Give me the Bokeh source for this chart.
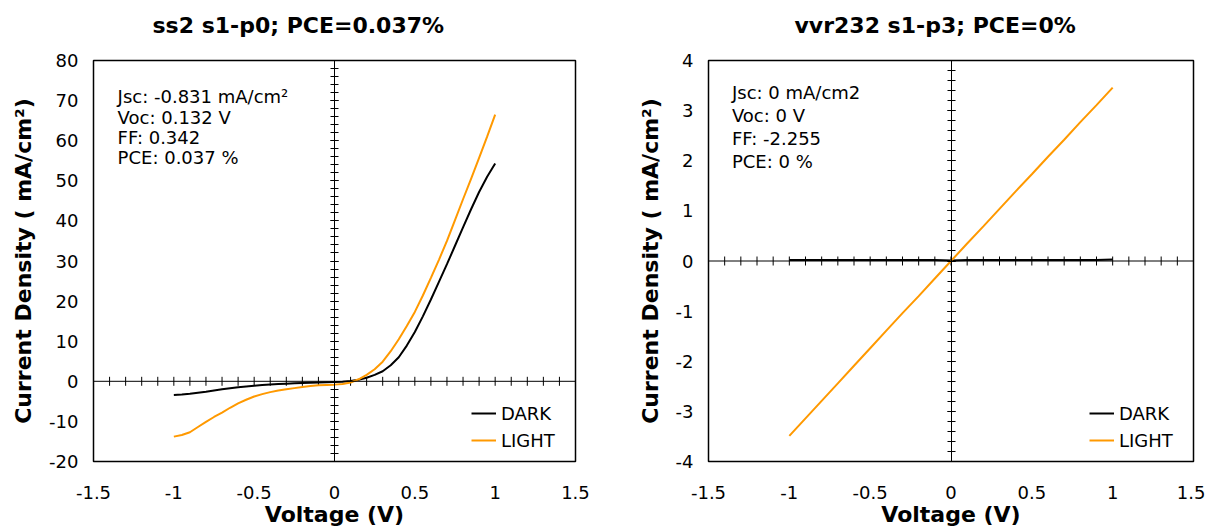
import math
import numpy as np
from bokeh.plotting import figure
from bokeh.models import (LinearAxis, SingleIntervalTicker, NumeralTickFormatter,
                          Label, Legend, LegendItem, Range1d, Span, Title)
from bokeh.layouts import row
from bokeh.embed import file_html
from bokeh.resources import INLINE

FONT = "DejaVu Sans"
ORANGE = "#FF9900"

# ---------------- data ----------------
voltage_ss2 = [-1.0, -0.95, -0.9, -0.85, -0.8, -0.75, -0.7, -0.65, -0.6, -0.55,
               -0.5, -0.45, -0.4, -0.35, -0.3, -0.25, -0.2, -0.15, -0.1, -0.05,
               0.0, 0.05, 0.1, 0.15, 0.2, 0.25, 0.3, 0.35, 0.4, 0.45,
               0.5, 0.55, 0.6, 0.65, 0.7, 0.75, 0.8, 0.85, 0.9, 0.95, 1.0]
dark_ss2 = [-3.4, -3.3, -3.1, -2.85, -2.6, -2.3, -2.0, -1.75, -1.5, -1.3,
            -1.1, -0.95, -0.8, -0.7, -0.6, -0.5, -0.4, -0.35, -0.3, -0.25,
            -0.2, -0.1, 0.1, 0.4, 0.9, 1.6, 2.5, 4.0, 6.0, 8.9,
            12.3, 16.2, 20.4, 24.8, 29.2, 33.8, 38.4, 42.9, 47.2, 51.0, 54.3]
light_ss2 = [-13.8, -13.4, -12.7, -11.4, -10.1, -8.9, -7.8, -6.6, -5.5, -4.6,
             -3.8, -3.2, -2.7, -2.3, -2.0, -1.7, -1.4, -1.2, -1.0, -0.9,
             -0.83, -0.65, -0.3, 0.5, 1.6, 3.0, 4.9, 7.5, 10.5, 13.8,
             17.3, 21.4, 25.8, 30.3, 35.0, 40.2, 45.4, 50.5, 55.7, 61.0, 66.5]

voltage_vvr = [-1.0, -0.9, -0.8, -0.7, -0.6, -0.5, -0.4, -0.3, -0.2, -0.1, 0.0,
               0.1, 0.2, 0.3, 0.4, 0.5, 0.6, 0.7, 0.8, 0.9, 1.0]
dark_vvr = [0.02, 0.02, 0.02, 0.02, 0.02, 0.02, 0.02, 0.02, 0.02, 0.02, 0.01,
            0.02, 0.02, 0.02, 0.02, 0.02, 0.02, 0.02, 0.02, 0.02, 0.03]
light_vvr = [-3.49, -3.14, -2.79, -2.44, -2.09, -1.74, -1.39, -1.04, -0.70, -0.35, 0.0,
             0.35, 0.69, 1.04, 1.39, 1.73, 2.08, 2.42, 2.77, 3.11, 3.46]

titles = ["ss2 s1-p0; PCE=0.037%", "vvr232 s1-p3; PCE=0%"]
notes_ss2 = ["Jsc: -0.831 mA/cm\u00b2", "Voc: 0.132 V", "FF: 0.342", "PCE: 0.037 %"]
notes_vvr = ["Jsc: 0 mA/cm2", "Voc: 0 V", "FF: -2.255", "PCE: 0 %"]
series_names = ["DARK", "LIGHT"]
x_label = "Voltage (V)"
y_label = "Current Density ( mA/cm\u00b2)"
x_min, x_max, x_minor_step = -1.5, 1.5, 0.1


def make(title, volts, dark, light, y0, y1, ymajor, notes, note_x, note_y, note_dy,
         left_border, right_border, frame_w, title_offset, legend_x):
    p = figure(frame_width=frame_w, frame_height=401,
               x_range=Range1d(x_min, x_max), y_range=Range1d(y0, y1),
               output_backend="svg", toolbar_location=None, title=None,
               min_border_left=left_border, min_border_right=right_border,
               min_border_top=60, min_border_bottom=64,
               x_axis_type=None, y_axis_type=None)
    p.grid.visible = False
    p.outline_line_color = "black"
    p.outline_line_width = 1.5
    p.background_fill_color = "white"
    p.border_fill_color = "white"

    # invisible spacer between frame and title
    spacer = LinearAxis(ticker=SingleIntervalTicker(interval=0.5, num_minor_ticks=0))
    spacer.axis_line_color = None
    spacer.major_tick_line_color = None
    spacer.minor_tick_line_color = None
    spacer.major_tick_in = 0
    spacer.major_tick_out = 23
    spacer.minor_tick_out = 0
    spacer.major_label_text_color = None
    spacer.major_label_text_font_size = "1px"
    spacer.major_label_standoff = 0
    p.add_layout(spacer, "above")

    t = Title(text=title, text_font=FONT, text_font_size="22px",
              text_font_style="bold", text_color="black",
              align="left", offset=title_offset, standoff=0)
    p.add_layout(t, "above")

    # outer label axes (no ticks/line)
    xa = LinearAxis(ticker=SingleIntervalTicker(interval=0.5, num_minor_ticks=0),
                    formatter=NumeralTickFormatter(format="0.[0]"))
    ya = LinearAxis(ticker=SingleIntervalTicker(interval=ymajor, num_minor_ticks=0),
                    formatter=NumeralTickFormatter(format="0.[0]"))
    for ax in (xa, ya):
        ax.axis_line_color = None
        ax.major_tick_line_color = None
        ax.minor_tick_line_color = None
        ax.major_label_text_font = FONT
        ax.major_label_text_font_size = "18px"
        ax.major_label_text_color = "black"
        ax.axis_label_text_font = FONT
        ax.axis_label_text_font_style = "bold"
        ax.axis_label_text_font_size = "22px"
        ax.axis_label_text_color = "black"
    xa.axis_label = x_label
    ya.axis_label = y_label
    xa.major_label_standoff = 18
    xa.axis_label_standoff = 0
    ya.major_label_standoff = 9
    ya.axis_label_standoff = 10
    p.add_layout(xa, "below")
    p.add_layout(ya, "left")

    # vertical crossing axis through x = 0
    cy = LinearAxis(fixed_location=0,
                    ticker=SingleIntervalTicker(interval=ymajor, num_minor_ticks=5))
    cy.axis_line_color = "black"
    cy.axis_line_width = 1
    cy.major_tick_in = 4
    cy.major_tick_out = 4
    cy.minor_tick_in = 4
    cy.minor_tick_out = 4
    cy.major_tick_line_color = "black"
    cy.minor_tick_line_color = "black"
    cy.major_label_text_color = None
    cy.major_label_text_font_size = "1px"
    cy.major_label_standoff = 0
    p.add_layout(cy, "right")

    # horizontal crossing axis through y = 0 (line + crossing tick marks)
    p.add_layout(Span(location=0, dimension="width", line_color="black", line_width=1))
    xticks = np.round(np.arange(x_min, x_max + 1e-9, x_minor_step), 3)
    p.scatter(xticks, np.zeros_like(xticks), marker="dash", angle=math.pi / 2,
              size=9, line_color="black", line_width=1)

    r_dark = p.line(volts, dark, line_color="black", line_width=2)
    r_light = p.line(volts, light, line_color=ORANGE, line_width=2)

    leg = Legend(items=[LegendItem(label=series_names[0], renderers=[r_dark]),
                        LegendItem(label=series_names[1], renderers=[r_light])],
                 location=(legend_x, 10))
    leg.border_line_color = None
    leg.background_fill_alpha = 0
    leg.label_text_font = FONT
    leg.label_text_font_size = "18px"
    leg.label_text_color = "black"
    leg.glyph_width = 25
    leg.glyph_height = 22
    leg.label_height = 22
    leg.spacing = 5
    leg.label_standoff = 5
    leg.margin = 0
    leg.padding = 4
    p.add_layout(leg)

    for i, txt in enumerate(notes):
        p.add_layout(Label(x=note_x, y=note_y - i * note_dy, text=txt,
                           text_font=FONT, text_font_size="18px",
                           text_color="black", text_baseline="middle"))
    return p


p1 = make(titles[0], voltage_ss2, dark_ss2, light_ss2, -20, 80, 10, notes_ss2,
          -1.35, 70.9, 5.0, 93, 40, 482, 59, 378)
p2 = make(titles[1], voltage_vvr, dark_vvr, light_vvr, -4, 4, 1, notes_vvr,
          -1.355, 3.37, 0.46, 93, 12, 485, 86, 381)

layout = row(p1, p2)
open("out.html", "w").write(file_html(layout, INLINE))
